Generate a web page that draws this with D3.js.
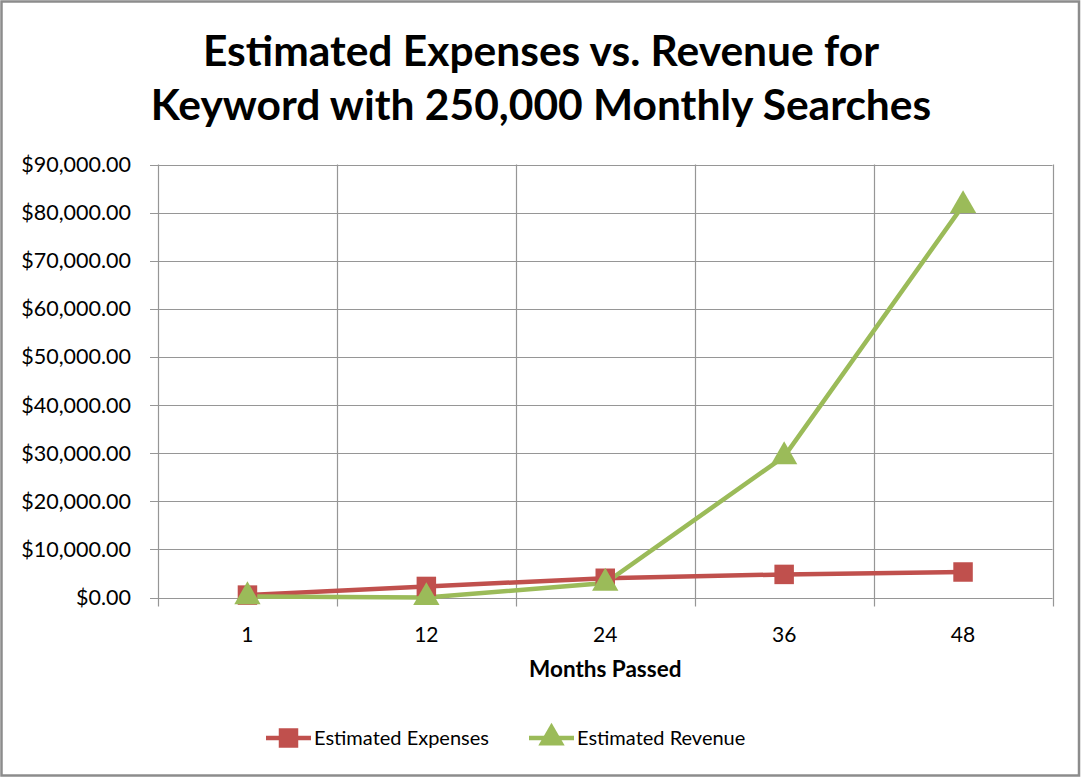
<!DOCTYPE html>
<html><head><meta charset="utf-8">
<script src="https://cdn.jsdelivr.net/npm/d3@7"></script>
<style>body{margin:0;background:#fff}svg{display:block}</style>
</head><body>
<svg id="c" width="1081" height="777"></svg>
<script>
const categories = ["1","12","24","36","48"];
const expenses = [500, 2300, 4000, 4800, 5300];
const revenue = [200, 0, 3000, 29300, 81500];
const yTicks = [0,10000,20000,30000,40000,50000,60000,70000,80000,90000];
const seriesNames = ["Estimated Expenses","Estimated Revenue"];
const titleLines = ["Estimated Expenses vs. Revenue for","Keyword with 250,000 Monthly Searches"];
const xTitle = "Months Passed";

const svg = d3.select("#c");
const FONT = "Lato, 'Open Sans', sans-serif";
const red = "#C0504D", green = "#9BBB59", grid = "#969696";

svg.append("rect").attr("x",1.5).attr("y",1.5).attr("width",1077.5).attr("height",774)
  .attr("fill","#fff").attr("stroke","#8c8c8c").attr("stroke-width",2.5);

const L=158, R=1052.5, T=164.5, B=597.5;
const x = d3.scaleBand().domain(categories).range([L,R]);
const y = d3.scaleLinear().domain([0,90000]).range([B,T]);

const g = svg.append("g");
g.selectAll(".hg").data(yTicks).join("line")
  .attr("x1",L-8).attr("x2",R).attr("y1",d=>Math.round(y(d))+0.5).attr("y2",d=>Math.round(y(d))+0.5)
  .attr("stroke",grid).attr("stroke-width",1.2);
const bounds = categories.map(c=>x(c)).concat([x(categories[categories.length-1])+x.bandwidth()]);
g.selectAll(".vg").data(bounds).join("line")
  .attr("x1",d=>Math.round(d)+0.5).attr("x2",d=>Math.round(d)+0.5).attr("y1",T).attr("y2",B+9)
  .attr("stroke",grid).attr("stroke-width",1.2);

const fmt = d3.format("$,.2f");
g.selectAll(".yl").data(yTicks).join("text")
  .attr("x",131).attr("y",d=>y(d)+7.5).attr("text-anchor","end")
  .attr("font-family",FONT).attr("font-size",21.5).attr("fill","#000").text(d=>fmt(d));
g.selectAll(".xl").data(categories).join("text")
  .attr("x",d=>x(d)+x.bandwidth()/2).attr("y",642).attr("text-anchor","middle")
  .attr("font-family",FONT).attr("font-size",21).attr("fill","#000").text(d=>d);
svg.append("text").attr("x",(L+R)/2).attr("y",677).attr("text-anchor","middle")
  .attr("font-family",FONT).attr("font-size",22.5).attr("font-weight","bold").text(xTitle);
svg.selectAll(".tt").data(titleLines).join("text")
  .attr("x",541).attr("y",(d,i)=>66+i*54).attr("text-anchor","middle")
  .attr("font-family",FONT).attr("font-size",42.5).attr("font-weight","bold").text(d=>d);

const cx = d=>x(d)+x.bandwidth()/2;
const line = d3.line().x((d,i)=>cx(categories[i])).y(d=>y(d));
svg.append("path").datum(expenses).attr("d",line).attr("fill","none").attr("stroke",red).attr("stroke-width",4.5);
svg.append("path").datum(revenue).attr("d",line).attr("fill","none").attr("stroke",green).attr("stroke-width",4.5);

const sq = d3.symbol().type(d3.symbolSquare).size(380);
const tri = d3.symbol().type(d3.symbolTriangle).size(300);
svg.selectAll(".me").data(expenses).join("path")
  .attr("d",sq).attr("transform",(d,i)=>`translate(${cx(categories[i])},${y(d)})`).attr("fill",red);
svg.selectAll(".mr").data(revenue).join("path")
  .attr("d",tri).attr("transform",(d,i)=>`translate(${cx(categories[i])},${y(d)})`).attr("fill",green);

const leg = [{name:seriesNames[0],c:red,s:sq,x0:266},{name:seriesNames[1],c:green,s:tri,x0:529}];
const lg = svg.selectAll(".lg").data(leg).join("g").attr("transform",d=>`translate(${d.x0},738)`);
lg.append("line").attr("x1",0).attr("x2",45).attr("y1",0).attr("y2",0).attr("stroke",d=>d.c).attr("stroke-width",4.5);
lg.append("path").attr("d",d=>d.s()).attr("transform","translate(22.5,0)").attr("fill",d=>d.c);
lg.append("text").attr("x",48).attr("y",7).attr("font-family",FONT).attr("font-size",20).attr("fill","#000").text(d=>d.name);
</script>
</body></html>
